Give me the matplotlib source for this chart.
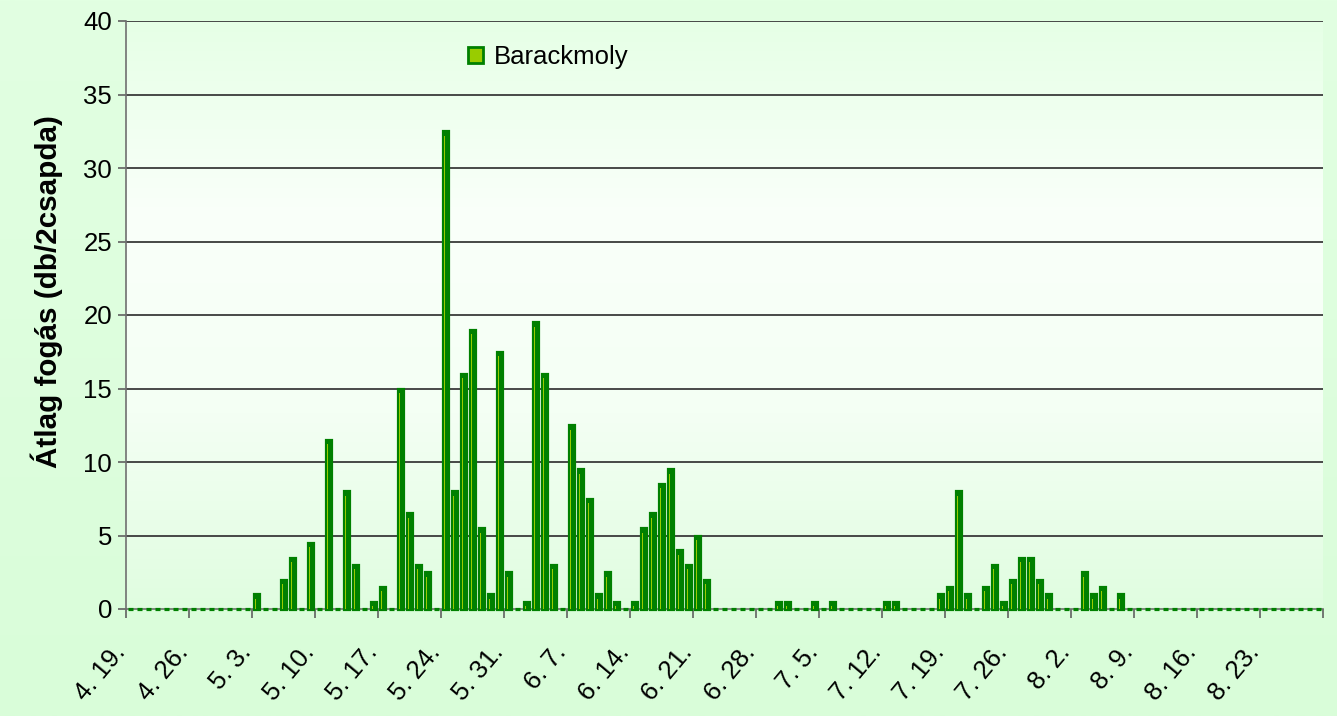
import matplotlib
matplotlib.use('Agg')
import matplotlib.pyplot as plt
import numpy as np
from matplotlib.patches import Patch
from matplotlib.colors import LinearSegmentedColormap
import matplotlib.transforms as mtransforms

# daily catch, 4.19. -> 8.29. (one row = one week)
values = [
    0, 0, 0, 0, 0, 0, 0,
    0, 0, 0, 0, 0, 0, 0,
    1, 0, 0, 2, 3.5, 0, 4.5,
    0, 11.5, 0, 8, 3, 0, 0.5,
    1.5, 0, 15, 6.5, 3, 2.5, 0,
    32.5, 8, 16, 19, 5.5, 1, 17.5,
    2.5, 0, 0.5, 19.5, 16, 3, 0,
    12.5, 9.5, 7.5, 1, 2.5, 0.5, 0,
    0.5, 5.5, 6.5, 8.5, 9.5, 4, 3,
    5, 2, 0, 0, 0, 0, 0,
    0, 0, 0.5, 0.5, 0, 0, 0.5,
    0, 0.5, 0, 0, 0, 0, 0,
    0.5, 0.5, 0, 0, 0, 0, 1,
    1.5, 8, 1, 0, 1.5, 3, 0.5,
    2, 3.5, 3.5, 2, 1, 0, 0,
    0, 2.5, 1, 1.5, 0, 1, 0,
    0, 0, 0, 0, 0, 0, 0,
    0, 0, 0, 0, 0, 0, 0,
    0, 0, 0, 0, 0, 0, 0,
]
week_labels = ['4. 19.', '4. 26.', '5. 3.', '5. 10.', '5. 17.', '5. 24.', '5. 31.',
               '6. 7.', '6. 14.', '6. 21.', '6. 28.', '7. 5.', '7. 12.', '7. 19.',
               '7. 26.', '8. 2.', '8. 9.', '8. 16.', '8. 23.', '']
series_name = 'Barackmoly'
ylabel = 'Átlag fogás (db/2csapda)'

plt.rcParams['font.family'] = ['Liberation Sans', 'DejaVu Sans']
fs = 18.5

fig = plt.figure(figsize=(13.37, 7.16), dpi=100)
fig.patch.set_facecolor('#DDFFDD')

# figure background gradient
bg = fig.add_axes([0, 0, 1, 1], zorder=-10)
bg_cmap = LinearSegmentedColormap.from_list('bg', ['#E2FFE2', '#D9FDD9'])
bg.imshow(np.linspace(0, 1, 256).reshape(-1, 1), aspect='auto', cmap=bg_cmap,
          extent=[0, 1, 0, 1], origin='upper')
bg.axis('off')

ax = fig.add_axes([126/1337, 1-609/716, (1323-126)/1337, (609-21)/716])
n = len(values)
x = np.arange(n)
v = np.array(values)

ax.set_xlim(-0.5, n - 0.5)
ax.set_ylim(0, 40)

# plot area gradient
pa_cmap = LinearSegmentedColormap.from_list('pa', ['#E6FFE6', '#FAFFFA', '#F4FFF4', '#E0FDE0'])
ax.imshow(np.linspace(0, 1, 256).reshape(-1, 1), aspect='auto', cmap=pa_cmap,
          extent=[-0.5, n - 0.5, 0, 40], origin='upper', zorder=0)

ax.set_yticks(np.arange(0, 41, 5))
for yv in np.arange(5, 41, 5):
    ax.axhline(yv, color='#3A3A3A', lw=1.3, zorder=1)

ax.bar(x, v, width=0.6, color='#008000', edgecolor='#008000', linewidth=2.3,
       zorder=3, clip_on=False)
stripe = np.where(v > 0, np.maximum(v - 0.3, 0), 0)
ax.bar(x - 0.06, stripe, width=0.11, color='#99CC00', linewidth=0, zorder=4)

tick_pos = np.arange(0, n + 1, 7) - 0.5
ax.set_xticks(tick_pos)
ax.set_xticklabels(week_labels[:len(tick_pos)], rotation=50, ha='right', va='baseline',
                   rotation_mode='anchor', fontsize=fs)
shift = mtransforms.ScaledTranslation(2/100, 0, fig.dpi_scale_trans)
for lab in ax.get_xticklabels():
    lab.set_transform(lab.get_transform() + shift)

for s in ['top', 'right']:
    ax.spines[s].set_visible(False)
for s in ['left', 'bottom']:
    ax.spines[s].set_color('#707070')
    ax.spines[s].set_linewidth(1.2)
    ax.spines[s].set_zorder(2)
ax.tick_params(axis='x', length=6.5, width=1.2, color='#606060', pad=25)
ax.tick_params(axis='y', length=6, width=1.2, color='#606060', labelsize=fs, pad=4)

fig.text(47/1337, 1-292/716, ylabel, rotation=90, ha='center', va='center',
         fontsize=21.3, fontweight='bold')

handle = Patch(facecolor='#99CC00', edgecolor='#008000', linewidth=2, label=series_name)
fig.legend(handles=[handle], loc='center left', bbox_to_anchor=(468/1337, 1-57/716),
           frameon=False, fontsize=fs, handlelength=0.6, handleheight=0.6,
           handletextpad=0.4, borderpad=0, borderaxespad=0)

fig.savefig('out.png', dpi=100, facecolor=fig.get_facecolor())
